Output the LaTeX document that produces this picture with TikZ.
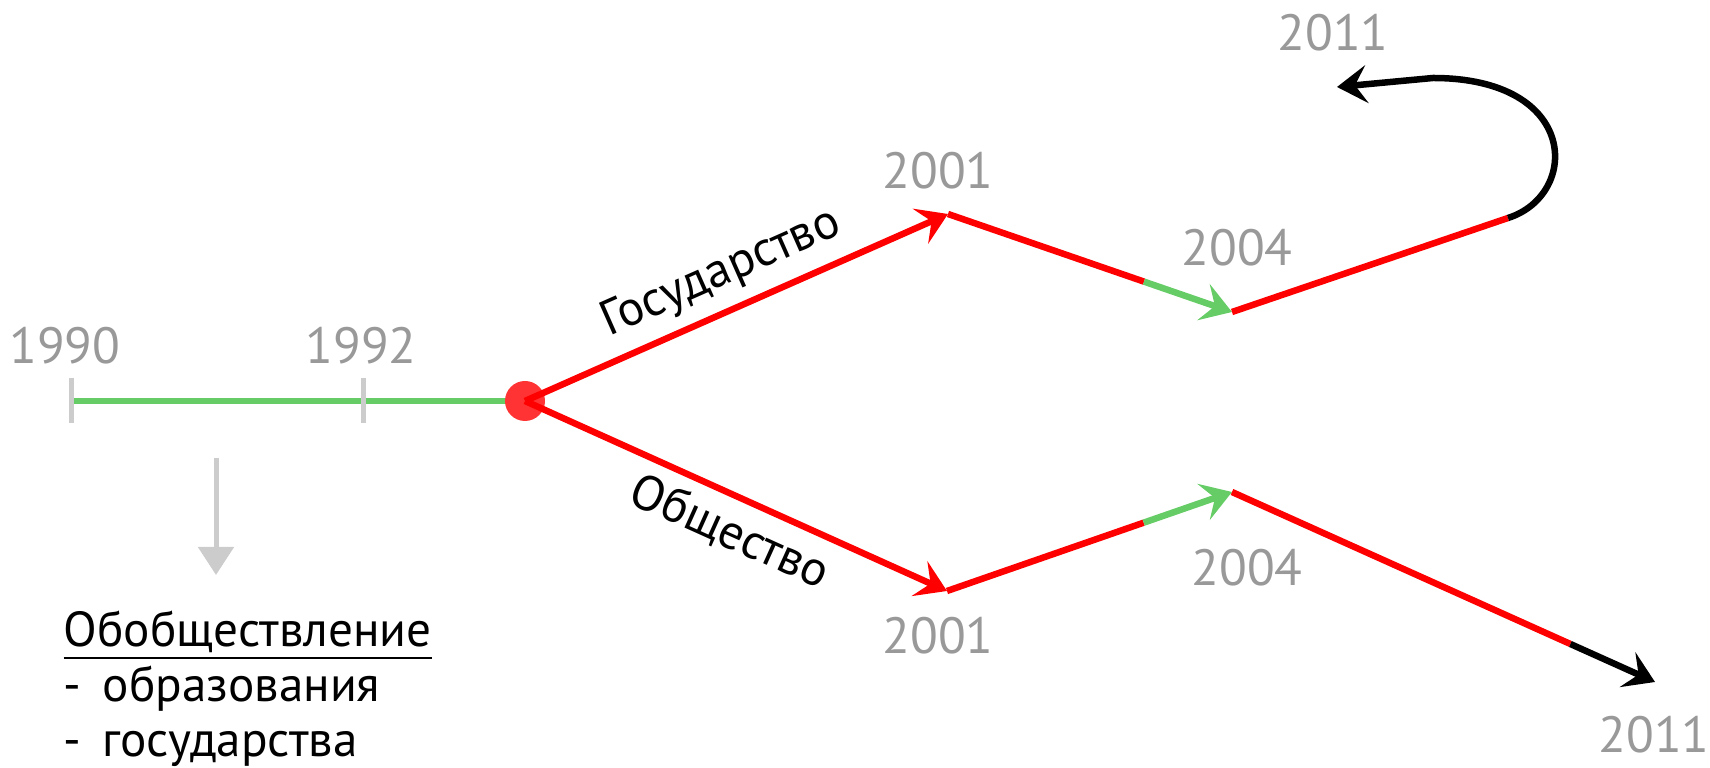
\documentclass[tikz,border=0pt]{standalone}
\usepackage{fontspec}
\setmainfont{PT Sans}
\usetikzlibrary{arrows.meta,calc}

\definecolor{tlgreen}{HTML}{66CC66}
\definecolor{tlgray}{HTML}{999999}
\definecolor{tllight}{HTML}{CCCCCC}
\definecolor{tldot}{HTML}{FF3333}

\begin{document}
\begin{tikzpicture}[x=0.1mm, y=-0.1mm,
    >={Stealth[length=3mm, width=3.8mm, inset=1.2mm]},
    year/.style={text=tlgray, font=\fontsize{14.5}{18}\selectfont, inner sep=0pt},
    word/.style={text=black, font=\fontsize{14}{17}\selectfont},
    note/.style={font=\fontsize{14}{17}\selectfont, anchor=base west, inner sep=0pt},
    branch/.style={red, line width=0.65mm},
    growth/.style={tlgreen, line width=0.65mm},
    final/.style={black, line width=0.65mm},
    tick/.style={tllight, line width=0.5mm}]

\useasboundingbox (0,0) rectangle (1710,768);

%========================
% 点
%========================
\coordinate (t0)    at (71,401);
\coordinate (t1)    at (363,401);
\coordinate (fork)  at (525,401);
\coordinate (up1)   at (948,214);
\coordinate (up2)   at (1232,312);
\coordinate (up3)   at (1508,218);
\coordinate (loop)  at (1433,78);
\coordinate (upend) at (1337,87);
\coordinate (lo1)   at (947,591);
\coordinate (lo2)   at (1232,492);
\coordinate (loend) at (1655,682);
\coordinate (upg) at ($(up1)!0.69!(up2)$);
\coordinate (log) at ($(lo1)!0.69!(lo2)$);
\coordinate (lob) at ($(lo2)!0.8!(loend)$);

%========================
% 年
%========================
\node[year] (y1990)  at (65,346)   {1990};
\node[year] (y1992)  at (361,346)  {1992};
\node[year] (u2001)  at (938,171)  {2001};
\node[year] (l2001)  at (938,636)  {2001};
\node[year] (u2004)  at (1237,248) {2004};
\node[year] (l2004)  at (1247,568) {2004};
\node[year] (u2011)  at (1333,33)  {2011};
\node[year] (l2011)  at (1654,735) {2011};

%========================
% 1990 -- 1992
%========================
\draw[growth, line width=0.55mm] (t0) -- (fork);
\draw[tick] ($(t0)+(0,-23)$) -- ($(t0)+(0,22)$);
\draw[tick] ($(t1)+(0,-23)$) -- ($(t1)+(0,22)$);
\fill[tldot] (fork) circle (2mm);

%========================
% 国家
%========================
\draw[branch, ->] (fork) -- (up1)
    node[word, pos=0.5, sloped, above] (gos) {Государство};
\draw[branch] (up1) -- (upg);
\draw[growth, ->] (upg) -- (up2);
\draw[branch] (up2) -- (up3);
\draw[final, ->] (up3) .. controls (1580,195) and (1580,78) .. (loop) -- (upend);

%========================
% 社会
%========================
\draw[branch, ->] (fork) -- (lo1)
    node[word, pos=0.52, sloped, below] (obs) {Общество};
\draw[branch] (lo1) -- (log);
\draw[growth, ->] (log) -- (lo2);
\draw[branch] (lo2) -- (lob);
\draw[final, ->] (lob) -- (loend);

%========================
% 注
%========================
\coordinate (hint)    at (216,458);
\coordinate (hintend) at (216,575);
\draw[tllight, line width=0.5mm, -{Triangle[length=2.8mm, width=3.5mm]}] (hint) -- (hintend);

\node[note] (n0) at (63,647) {\underline{Обобществление}};
\node[note] (n1) at (63,702) {-\, образования};
\node[note] (n2) at (63,757) {-\, государства};

\end{tikzpicture}
\end{document}
